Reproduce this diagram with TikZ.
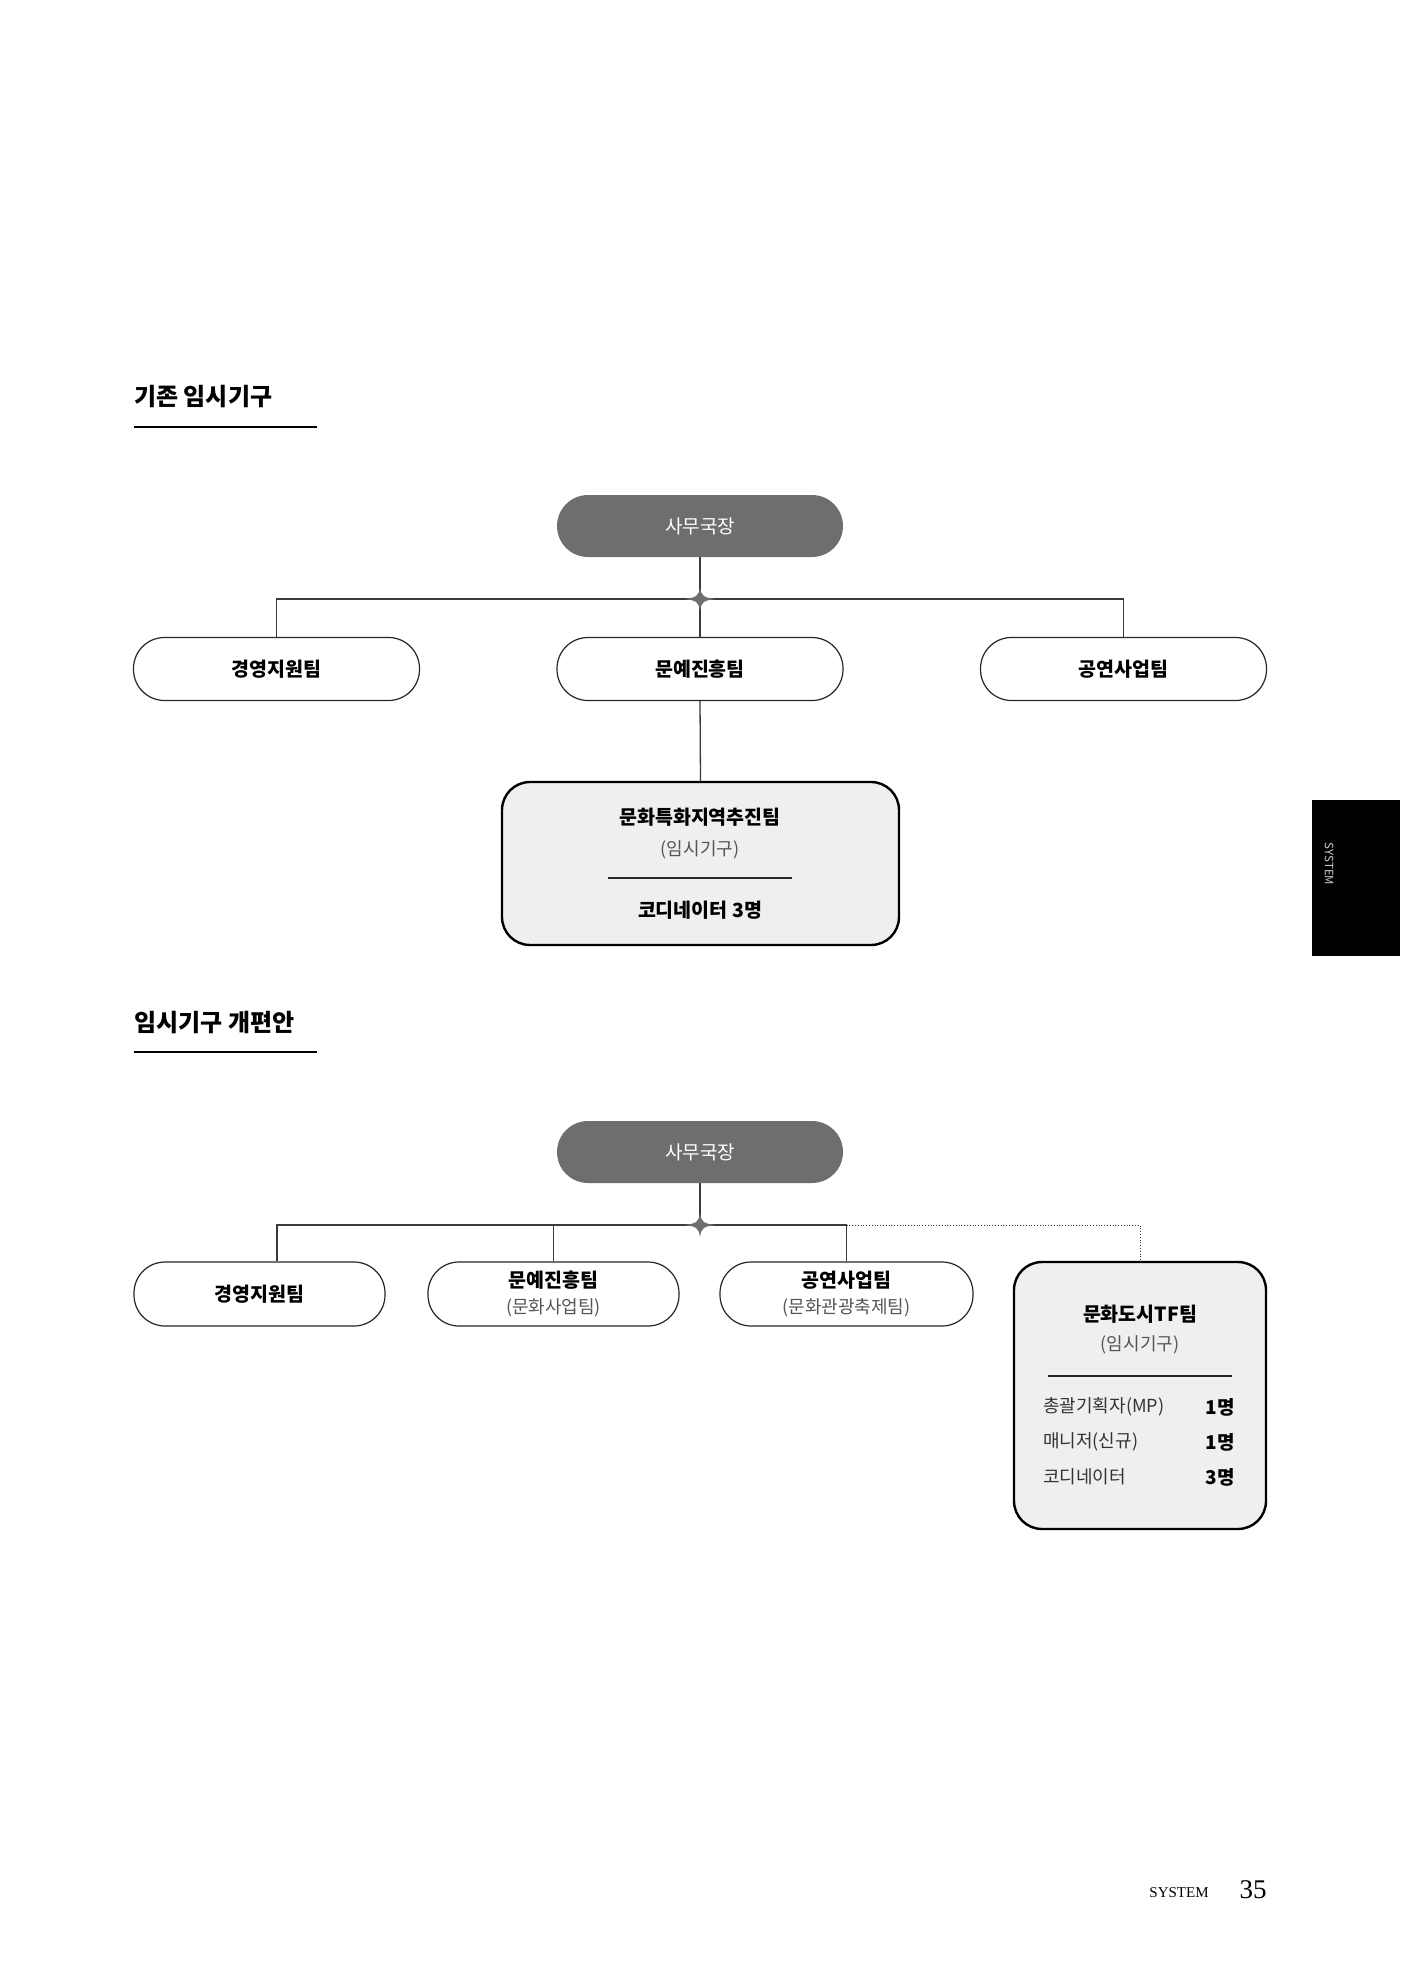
\documentclass[tikz,border=0pt]{standalone}
\usepackage{fontspec}
\setmainfont{Noto Sans CJK KR}
\newfontfamily\seriffont{Liberation Serif}
\definecolor{headgray}{HTML}{6E6E6E}
\definecolor{boxfill}{HTML}{EFEFEF}
\definecolor{linegray}{HTML}{3A3A3A}
\definecolor{subgray}{HTML}{555555}
\tikzset{
  pill/.style={draw=black!85, line width=1.2pt, rounded corners=31pt, minimum width=286pt, minimum height=63pt, fill=white, inner sep=0pt, align=center, font=\bfseries\fontsize{19.5}{29}\selectfont},
  headbox/.style={draw=none, fill=headgray, rounded corners=31pt, minimum width=286pt, minimum height=62pt, text=white, font=\fontsize{19}{22}\selectfont},
  bigbox/.style={draw=black, line width=2.4pt, fill=boxfill, rounded corners=28pt, inner sep=0pt},
  conn/.style={draw=linegray, line width=1.3pt},
  dotconn/.style={draw=linegray, line width=0.8pt, dotted},
  heading/.style={anchor=west, inner sep=0pt, font=\bfseries\fontsize{24}{28}\selectfont},
  titletxt/.style={font=\bfseries\fontsize{19.5}{23}\selectfont, inner sep=0pt},
  subtxt/.style={text=subgray, font=\fontsize{18}{22}\selectfont, inner sep=0pt},
  rowtxt/.style={anchor=west, text=black!80, font=\fontsize{18}{22}\selectfont, inner sep=0pt},
  rownum/.style={anchor=east, font=\bfseries\fontsize{19}{22}\selectfont, inner sep=0pt},
  divider/.style={draw=black!85, line width=1.1pt},
  starfill/.style={fill=headgray},
}
\begin{document}
\begin{tikzpicture}[x=1pt, y=-1pt]
\useasboundingbox (0,0) rectangle (1400,1980);
\fill[white] (0,0) rectangle (1400,1980);

% ---------- Chart 1 ----------
\node[heading] (h1) at (134,397) {기존 임시기구};
\draw[line width=1.3pt] (134,427) -- (317,427);

\node[headbox] (top1) at (700,526) {사무국장};
\node[pill] (m1) at (276.5,669) {경영지원팀};
\node[pill] (m2) at (700,669) {문예진흥팀};
\node[pill] (m3) at (1123.5,669) {공연사업팀};
\coordinate (j1) at (700,599);

\node[bigbox, minimum width=397pt, minimum height=163pt] (b1) at (700.5,863.5) {};
\node[titletxt] (b1t) at (700,817) {문화특화지역추진팀};
\node[subtxt] (b1s) at (700,850) {(임시기구)};
\draw[divider] (608,878) -- (792,878);
\node[titletxt] (b1b) at (700,910) {코디네이터 3명};

\draw[conn] (top1.south) -- (j1);
\draw[conn] (j1) -| (m1.north);
\draw[conn] (j1) -| (m3.north);
\draw[conn] (j1) -- (m2.north);
\draw[conn] (m2.south) -- (b1.north);
\fill[starfill, shift={(j1)}] (0,-12) .. controls (1.5,-3) and (3,-1.5) .. (16,0) .. controls (3,1.5) and (1.5,3) .. (0,12) .. controls (-1.5,3) and (-3,1.5) .. (-16,0) .. controls (-3,-1.5) and (-1.5,-3) .. cycle;

% ---------- Chart 2 ----------
\node[heading] (h2) at (134,1023) {임시기구 개편안};
\draw[line width=1.3pt] (134,1052) -- (317,1052);

\node[headbox] (top2) at (700,1152) {사무국장};
\node[pill, minimum width=251pt, minimum height=64pt] (n1) at (259.5,1294) {경영지원팀};
\node[pill, minimum width=251pt, minimum height=64pt] (n2) at (553.5,1294) {문예진흥팀\\[-3pt]{\mdseries\color{subgray}\fontsize{18}{22}\selectfont(문화사업팀)}};
\node[pill, minimum width=253pt, minimum height=64pt] (n3) at (846.5,1294) {공연사업팀\\[-3pt]{\mdseries\color{subgray}\fontsize{18}{22}\selectfont(문화관광축제팀)}};
\coordinate (j2) at (700,1225);
\coordinate (c1) at (277,1225);

\node[bigbox, minimum width=252pt, minimum height=267pt] (tf) at (1140,1395.5) {};
\node[titletxt] (tft) at (1140,1314) {문화도시TF팀};
\node[subtxt] (tfs) at (1140,1345) {(임시기구)};
\draw[divider] (1048,1376) -- (1232,1376);
\node[rowtxt] (r1) at (1043,1407) {총괄기획자(MP)};
\node[rownum] (r1n) at (1235,1407) {1명};
\node[rowtxt] (r2) at (1043,1442) {매니저(신규)};
\node[rownum] (r2n) at (1235,1442) {1명};
\node[rowtxt] (r3) at (1043,1477) {코디네이터};
\node[rownum] (r3n) at (1235,1477) {3명};

\draw[conn] (top2.south) -- (j2);
\draw[conn] (j2) -- (c1) -- (c1 |- n1.north);
\draw[conn] (j2) -| (n2.north);
\draw[conn] (j2) -| (n3.north);
\draw[dotconn] (n3.north |- j2) -- (tf.north |- j2) -- (tf.north);
\fill[starfill, shift={(j2)}] (0,-12) .. controls (1.5,-3) and (3,-1.5) .. (16,0) .. controls (3,1.5) and (1.5,3) .. (0,12) .. controls (-1.5,3) and (-3,1.5) .. (-16,0) .. controls (-3,-1.5) and (-1.5,-3) .. cycle;

% ---------- side tab ----------
\fill[black] (1312,800) rectangle (1400,956);
\node[rotate=-90, text=white!80!black, font=\fontsize{11.5}{13}\selectfont, inner sep=0pt] (tab) at (1329,864) {SYSTEM};

% ---------- footer ----------
\node[font=\seriffont\fontsize{15}{17}\selectfont, inner sep=0pt, anchor=base] (ft) at (1179,1897) {SYSTEM};
\node[font=\seriffont\fontsize{27}{30}\selectfont, inner sep=0pt, anchor=base] (pg) at (1253,1898) {35};
\end{tikzpicture}
\end{document}
